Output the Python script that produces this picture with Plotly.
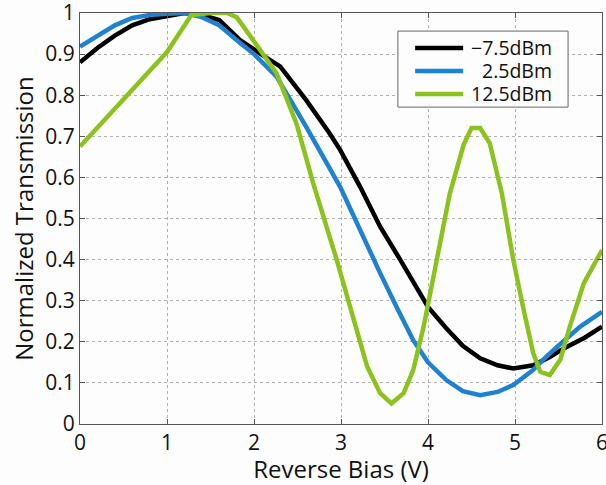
import plotly.graph_objects as go

# -7.5 dBm
x_black = [0.0, 0.2, 0.4, 0.6, 0.8, 1.0, 1.2, 1.4, 1.6, 1.84, 2.0, 2.15, 2.3, 2.6, 2.87, 2.99, 3.22, 3.3, 3.45, 3.68, 4.0, 4.21, 4.4, 4.6, 4.8, 4.98, 5.21, 5.4, 5.56, 5.8, 6.0]
y_black = [0.88, 0.915, 0.945, 0.97, 0.985, 0.992, 1.0, 0.995, 0.983, 0.934, 0.91, 0.89, 0.87, 0.788, 0.707, 0.667, 0.577, 0.545, 0.48, 0.40, 0.285, 0.233, 0.19, 0.16, 0.143, 0.135, 0.143, 0.163, 0.184, 0.21, 0.237]

# 2.5 dBm
x_blue = [0.0, 0.2, 0.4, 0.6, 0.8, 1.0, 1.2, 1.4, 1.6, 1.84, 2.0, 2.26, 2.6, 2.99, 3.37, 3.45, 3.65, 3.83, 4.0, 4.21, 4.4, 4.6, 4.8, 4.98, 5.2, 5.36, 5.55, 5.75, 6.0]
y_blue = [0.918, 0.945, 0.97, 0.988, 0.995, 0.998, 1.0, 0.99, 0.97, 0.927, 0.90, 0.845, 0.723, 0.577, 0.40, 0.367, 0.28, 0.204, 0.15, 0.107, 0.08, 0.07, 0.078, 0.095, 0.13, 0.164, 0.2, 0.237, 0.273]

# 12.5 dBm
x_green = [0.0, 0.5, 1.0, 1.28, 1.5, 1.69, 1.8, 1.99, 2.26, 2.49, 2.68, 2.95, 3.3, 3.45, 3.58, 3.72, 3.83, 3.95, 4.1, 4.25, 4.41, 4.5, 4.6, 4.71, 4.85, 4.98, 5.1, 5.21, 5.29, 5.4, 5.52, 5.63, 5.79, 5.95, 6.0]
y_green = [0.675, 0.79, 0.905, 0.995, 1.0, 1.0, 0.99, 0.934, 0.853, 0.73, 0.586, 0.40, 0.14, 0.075, 0.05, 0.075, 0.131, 0.237, 0.40, 0.56, 0.68, 0.72, 0.72, 0.683, 0.56, 0.40, 0.277, 0.172, 0.127, 0.119, 0.156, 0.237, 0.342, 0.405, 0.423]

series_names = ["\u22127.5dBm", "2.5dBm", "12.5dBm"]
series_colors = ["#000000", "#1f82d0", "#8cc21e"]

xs = [x_black, x_blue, x_green]
ys = [y_black, y_blue, y_green]

x_ticks = [0, 1, 2, 3, 4, 5, 6]
y_ticks = [0, 0.1, 0.2, 0.3, 0.4, 0.5, 0.6, 0.7, 0.8, 0.9, 1]
y_ticklabels = ["0", "0.1", "0.2", "0.3", "0.4", "0.5", "0.6", "0.7", "0.8", "0.9", "1"]

FONT = "Open Sans"
TXT = "#111111"
LINE_W = 4.5

fig = go.Figure()
for x, y, n, c in zip(xs, ys, series_names, series_colors):
    fig.add_trace(go.Scatter(x=x, y=y, mode="lines", name=n, showlegend=False,
                             line=dict(color=c, width=LINE_W)))

axis_common = dict(
    showline=True, linecolor="#555555", linewidth=1, mirror="ticks",
    ticks="inside", ticklen=5, tickcolor="#555555",
    showgrid=True, gridcolor="#b0b0b0", gridwidth=1, griddash="dot",
    zeroline=False, tickfont=dict(family=FONT, size=21, color=TXT),
    ticklabeloverflow="allow", automargin=False,
)

# custom compact legend box (paper coordinates)
legend_box = dict(x0=0.609, x1=0.935, y0=0.771, y1=0.956)
legend_rows_y = [0.915, 0.859, 0.803]
legend_line_x = (0.642, 0.734)
legend_text_right = 0.908

shapes = [dict(type="rect", xref="paper", yref="paper", **legend_box,
               line=dict(color="#666666", width=1), fillcolor="#fdfdfd", layer="above")]
annotations = []
for n, c, ry in zip(series_names, series_colors, legend_rows_y):
    shapes.append(dict(type="line", xref="paper", yref="paper",
                       x0=legend_line_x[0], x1=legend_line_x[1], y0=ry, y1=ry,
                       line=dict(color=c, width=LINE_W), layer="above"))
    annotations.append(dict(xref="paper", yref="paper", x=legend_text_right, y=ry,
                            xanchor="right", yanchor="middle", text=n, showarrow=False,
                            font=dict(family=FONT, size=19.5, color=TXT)))

fig.update_layout(
    width=606, height=485,
    margin=dict(l=80, r=4, t=13, b=61, autoexpand=False),
    paper_bgcolor="#fdfdfd", plot_bgcolor="#fdfdfd",
    font=dict(family=FONT, color=TXT),
    xaxis=dict(range=[0, 6], tickvals=x_ticks, ticktext=[str(t) for t in x_ticks],
               title=dict(text="Reverse Bias (V)", font=dict(family=FONT, size=24), standoff=5),
               **axis_common),
    yaxis=dict(range=[0, 1], tickvals=y_ticks, ticktext=y_ticklabels,
               title=dict(text="Normalized Transmission", font=dict(family=FONT, size=24), standoff=4),
               **axis_common),
    shapes=shapes,
    annotations=annotations,
)

fig.write_html("out.html")
